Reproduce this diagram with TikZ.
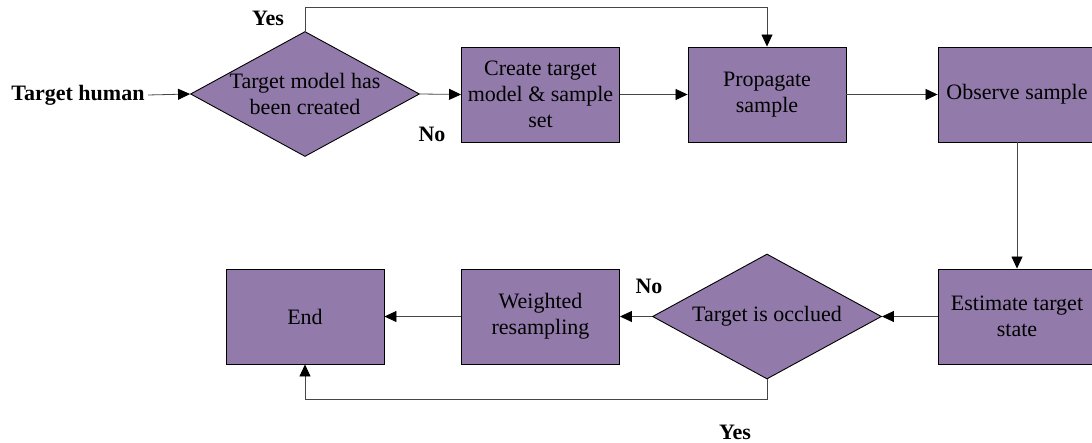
\documentclass[tikz,border=0pt]{standalone}
\usepackage{fontspec}
\setmainfont{Liberation Serif}
\usetikzlibrary{shapes.geometric,arrows.meta}
\definecolor{boxfill}{RGB}{146,123,170}
\definecolor{linegray}{RGB}{70,70,70}
\begin{document}
\begin{tikzpicture}[x=1pt,y=-1pt,
  every node/.style={font=\fontsize{22}{26}\selectfont},
  procbox/.style={draw=black,line width=0.9pt,fill=boxfill,rectangle,inner sep=0pt,
    minimum width=158pt,minimum height=95pt,align=center},
  decision/.style={draw=black,line width=0.9pt,fill=boxfill,diamond,inner sep=0pt,
    minimum width=229pt,minimum height=125pt},
  tag/.style={font=\fontsize{22}{26}\selectfont\bfseries},
  conn/.style={draw=linegray,line width=0.8pt},
  arr/.style={conn,-{Triangle[length=12pt,width=11pt,color=black]}}]
\useasboundingbox (0,0) rectangle (1092,443);

% guide rows for the two loop-back lines
\coordinate (ytop) at (0,7);
\coordinate (ybot) at (0,399);

% top row
\node[tag] (start) at (78,95) {Target human};
\node[decision,label={[align=center,font=\fontsize{22}{26}\selectfont]center:Target model has\\been created}] (d1) at (305,94) {};
\node[procbox] (create) at (540.5,94.5) {Create target\\model \& sample\\set};
\node[procbox] (prop) at (767,94.5) {Propagate\\sample};
\node[procbox] (obs) at (1017,94.5) {Observe sample};

% bottom row
\node[procbox] (est) at (1017,316.5) {Estimate target\\state};
\node[decision,label={center:Target is occlued}] (d2) at (767,316.5) {};
\node[procbox] (wres) at (540.5,316.5) {Weighted\\resampling};
\node[procbox] (endb) at (305,316.5) {End};

% branch labels
\node[tag] (yes1) at (268,18) {Yes};
\node[tag] (no1) at (432,134) {No};
\node[tag] (no2) at (649,286) {No};
\node[tag] (yes2) at (735,432) {Yes};

% connectors
\draw[arr] (start.east) -- (d1.west);
\draw[arr] (d1.east) -- (create.west);
\draw[arr] (create.east) -- (prop.west);
\draw[arr] (prop.east) -- (obs.west);
\draw[arr] (d1.north) -- (d1.north |- ytop) -| (prop.north);
\draw[arr] (obs.south) -- (est.north);
\draw[arr] (est.west) -- (d2.east);
\draw[arr] (d2.west) -- (wres.east);
\draw[arr] (wres.west) -- (endb.east);
\draw[arr] (d2.south) -- (d2.south |- ybot) -| (endb.south);
\end{tikzpicture}
\end{document}
